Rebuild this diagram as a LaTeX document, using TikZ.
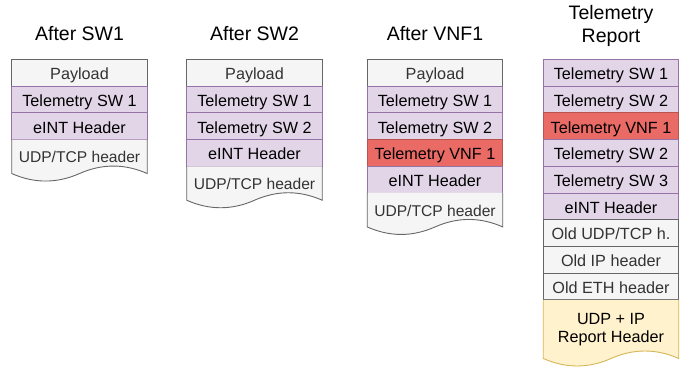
\documentclass[tikz,border=0pt]{standalone}
\usepackage{fontspec}
\setmainfont{Liberation Sans}
\usetikzlibrary{positioning}

\definecolor{grayfill}{HTML}{F5F5F5}
\definecolor{graydraw}{HTML}{666666}
\definecolor{graytext}{HTML}{333333}
\definecolor{purplefill}{HTML}{E1D5E7}
\definecolor{purpledraw}{HTML}{9673A6}
\definecolor{redfill}{HTML}{EA6B66}
\definecolor{reddraw}{HTML}{B85450}
\definecolor{yellowfill}{HTML}{FFF2CC}
\definecolor{yellowdraw}{HTML}{D6B656}

\begin{document}
\begin{tikzpicture}[x=1pt, y=1pt,
    every node/.style={node distance=0pt, rectangle, outer sep=0pt, inner sep=0pt},
    row/.style={draw, line width=0.9pt, minimum width=135.5pt, minimum height=26.7pt, font=\fontsize{16.2}{18}\selectfont},
    rowtext/.style={text height=13.7pt, text depth=0pt},
    grayrow/.style={row, rowtext, fill=grayfill, draw=graydraw, text=graytext},
    purplerow/.style={row, rowtext, fill=purplefill, draw=purpledraw},
    redrow/.style={row, rowtext, fill=redfill, draw=reddraw},
    docrow/.style={row, draw=none, fill=none, minimum height=32.5pt},
    title/.style={font=\fontsize{19.5}{23}\selectfont, align=center}]

    \useasboundingbox (0,0) rectangle (692,-369);

    % after SW1
    \node[title] (sw1) at (79.5,-33.5) {After SW1};
    \node[grayrow] (pay1) at (79.5,-72.8) {Payload};
    \node[purplerow, below=of pay1] (tsw1a) {Telemetry SW 1};
    \node[purplerow, below=of tsw1a] (eint1) {eINT Header};
    \path[fill=grayfill, draw=graydraw, line width=0.9pt] (eint1.south east) -- ++(0,-34) .. controls +(-22.6,10) and +(22.6,10) .. ++(-67.75,0) .. controls +(-22.6,-10) and +(22.6,-10) .. ++(-67.75,0) -- (eint1.south west);
    \node[docrow, rowtext, below=of eint1, text=graytext, font=\fontsize{15.6}{18}\selectfont] (udp1) {UDP/TCP header};

    % after SW2
    \node[title] (sw2) at (254.5,-33.5) {After SW2};
    \node[grayrow] (pay2) at (254.5,-72.8) {Payload};
    \node[purplerow, below=of pay2] (tsw2a) {Telemetry SW 1};
    \node[purplerow, below=of tsw2a] (tsw2b) {Telemetry SW 2};
    \node[purplerow, below=of tsw2b] (eint2) {eINT Header};
    \path[fill=grayfill, draw=graydraw, line width=0.9pt] (eint2.south east) -- ++(0,-34) .. controls +(-22.6,10) and +(22.6,10) .. ++(-67.75,0) .. controls +(-22.6,-10) and +(22.6,-10) .. ++(-67.75,0) -- (eint2.south west);
    \node[docrow, rowtext, below=of eint2, text=graytext, font=\fontsize{15.6}{18}\selectfont] (udp2) {UDP/TCP header};

    % after VNF1
    \node[title] (vnf1) at (435,-33.5) {After VNF1};
    \node[grayrow] (pay3) at (435,-72.8) {Payload};
    \node[purplerow, below=of pay3] (tsw3a) {Telemetry SW 1};
    \node[purplerow, below=of tsw3a] (tsw3b) {Telemetry SW 2};
    \node[redrow, below=of tsw3b] (tvnf3) {Telemetry VNF 1};
    \node[purplerow, below=of tvnf3] (eint3) {eINT Header};
    \path[fill=grayfill, draw=graydraw, line width=0.9pt] (eint3.south east) -- ++(0,-34) .. controls +(-22.6,10) and +(22.6,10) .. ++(-67.75,0) .. controls +(-22.6,-10) and +(22.6,-10) .. ++(-67.75,0) -- (eint3.south west);
    \node[docrow, rowtext, below=of eint3, text=graytext, font=\fontsize{15.6}{18}\selectfont] (udp3) {UDP/TCP header};

    % telemetry report
    \node[title] (rep) at (611,-26) {Telemetry\\Report};
    \node[purplerow] (tsw4a) at (611,-72.8) {Telemetry SW 1};
    \node[purplerow, below=of tsw4a] (tsw4b) {Telemetry SW 2};
    \node[redrow, below=of tsw4b] (tvnf4) {Telemetry VNF 1};
    \node[purplerow, below=of tvnf4] (tsw4c) {Telemetry SW 2};
    \node[purplerow, below=of tsw4c] (tsw4d) {Telemetry SW 3};
    \node[purplerow, below=of tsw4d] (eint4) {eINT Header};
    \node[grayrow, below=of eint4] (oldudp) {Old UDP/TCP h.};
    \node[grayrow, below=of oldudp] (oldip) {Old IP header};
    \node[grayrow, below=of oldip] (oldeth) {Old ETH header};
    \path[fill=yellowfill, draw=yellowdraw, line width=0.9pt] (oldeth.south east) -- ++(0,-58.75) .. controls +(-22.6,10) and +(22.6,10) .. ++(-67.75,0) .. controls +(-22.6,-10) and +(22.6,-10) .. ++(-67.75,0) -- (oldeth.south west);
    \node[docrow, below=of oldeth, minimum height=59.6pt, align=center] (udpip) {UDP + IP\\Report Header};
\end{tikzpicture}
\end{document}
